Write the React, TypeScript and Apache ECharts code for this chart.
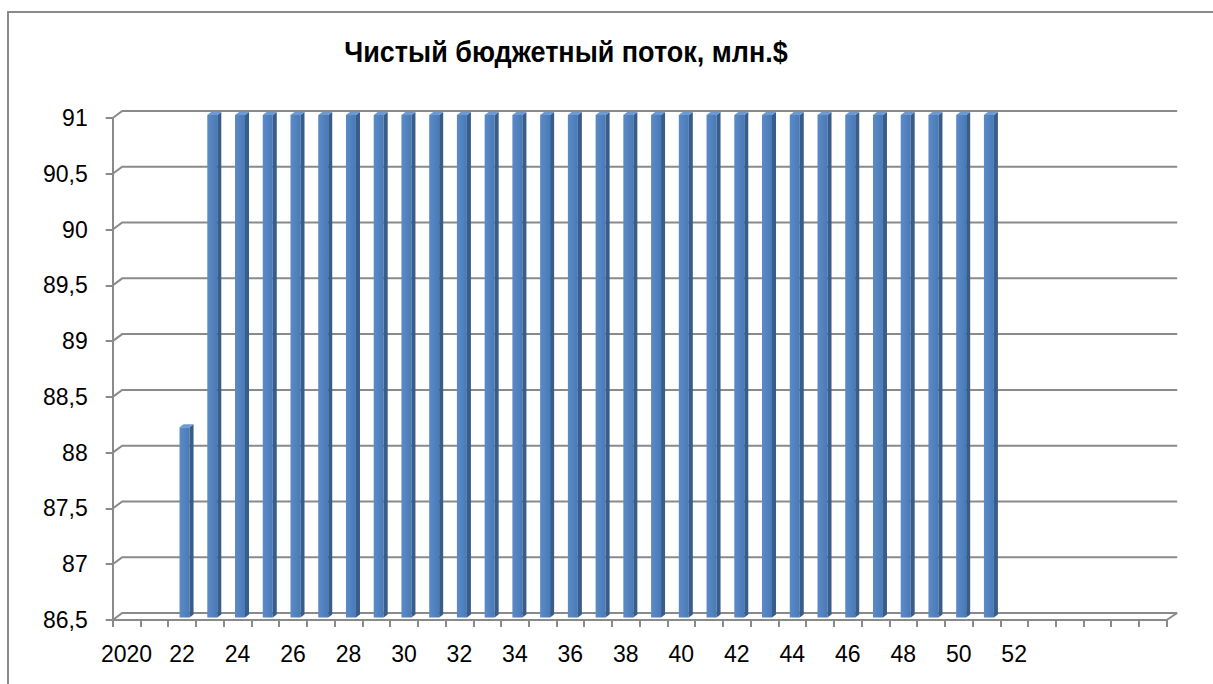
import React, { useEffect, useRef } from "react";
import * as echarts from "echarts";

const categories = [
  "2020", "2021", "2022", "2023", "2024", "2025", "2026", "2027", "2028", "2029",
  "2030", "2031", "2032", "2033", "2034", "2035", "2036", "2037", "2038", "2039",
  "2040", "2041", "2042", "2043", "2044", "2045", "2046", "2047", "2048", "2049",
  "2050", "2051", "2052", "2053", "2054", "2055", "2056", "2057",
];

const xTickLabels = [
  "2020", "", "22", "", "24", "", "26", "", "28", "",
  "30", "", "32", "", "34", "", "36", "", "38", "",
  "40", "", "42", "", "44", "", "46", "", "48", "",
  "50", "", "52", "", "", "", "", "",
];

const netFlow: (number | null)[] = [
  null, null, 88.2, 91, 91, 91, 91, 91, 91, 91,
  91, 91, 91, 91, 91, 91, 91, 91, 91, 91,
  91, 91, 91, 91, 91, 91, 91, 91, 91, 91,
  91, 91, null, null, null, null, null, null,
];

const yTicks = [86.5, 87, 87.5, 88, 88.5, 89, 89.5, 90, 90.5, 91];

const TITLE = "Чистый бюджетный поток, млн.$";
const Y_MIN = 86.5;
const Y_MAX = 91;
const Y_STEP = 0.5;

const AXIS = "#8a8a8a";
const DX = 9.5;
const DY = -7;
const FONT = "Liberation Sans, Arial, sans-serif";

export default function App() {
  const ref = useRef<HTMLDivElement>(null);

  useEffect(() => {
    const chart = echarts.init(ref.current!, null, { renderer: "svg" });
    const n = categories.length;

    const frameSeries = {
      type: "custom",
      silent: true,
      z: 1,
      encode: { x: 0, y: 1 },
      data: yTicks.map((v) => [0, v]),
      renderItem: (_params: any, api: any) => {
        const v = api.value(1);
        const band = api.size([1, 0])[0];
        const pl = api.coord([0, v]);
        const pr = api.coord([n - 1, v]);
        const xl = pl[0] - band / 2;
        const xr = pr[0] + band / 2;
        const y = pl[1];
        const children: any[] = [
          {
            type: "polyline",
            shape: { points: [[xl, y], [xl + DX, y + DY], [xr + DX + 1, y + DY]] },
            style: { stroke: AXIS, lineWidth: 2, fill: null },
          },
        ];
        if (v === Y_MIN) {
          children.push({
            type: "line",
            shape: { x1: xr, y1: y, x2: xr + DX + 1, y2: y + DY },
            style: { stroke: AXIS, lineWidth: 2 },
          });
        }
        return { type: "group", children };
      },
    };

    const barSeries = {
      type: "custom",
      name: "Чистый бюджетный поток",
      z: 2,
      encode: { x: 0, y: 1 },
      data: netFlow
        .map((v, i) => (v == null ? null : [i, v]))
        .filter((d) => d !== null),
      renderItem: (_params: any, api: any) => {
        const i = api.value(0);
        const v = api.value(1);
        const band = api.size([1, 0])[0];
        const t = api.coord([i, v]);
        const b = api.coord([i, Y_MIN]);
        const fw = band * 0.36;
        const d = band * 0.145;
        const dd = -3;
        const x0 = t[0] - band * 0.09;
        const yt = t[1] - 3;
        const yb = b[1] - 2.5;
        return {
          type: "group",
          children: [
            {
              type: "rect",
              shape: { x: x0, y: yt, width: fw, height: yb - yt },
              style: {
                fill: new echarts.graphic.LinearGradient(0, 0, 1, 0, [
                  { offset: 0, color: "#5A8BC8" },
                  { offset: 1, color: "#4A7AB6" },
                ]),
              },
            },
            {
              type: "polygon",
              shape: {
                points: [
                  [x0 + fw, yt],
                  [x0 + fw + d, yt + dd],
                  [x0 + fw + d, yb + dd],
                  [x0 + fw, yb],
                ],
              },
              style: { fill: "#385D8A" },
            },
            {
              type: "polygon",
              shape: {
                points: [
                  [x0, yt],
                  [x0 + d, yt + dd],
                  [x0 + fw + d, yt + dd],
                  [x0 + fw, yt],
                ],
              },
              style: { fill: "#6E9AD2" },
            },
          ],
        };
      },
    };

    chart.setOption({
      animation: false,
      backgroundColor: "#ffffff",
      graphic: [
        {
          type: "rect",
          silent: true,
          z: -10,
          shape: { x: 8, y: 12, width: 1400, height: 900 },
          style: { fill: "none", stroke: AXIS, lineWidth: 2 },
        },
        {
          type: "text",
          x: 566,
          y: 51,
          scaleY: 1.12,
          style: {
            text: TITLE,
            fontFamily: FONT,
            fontWeight: "bold",
            fontSize: 27,
            fill: "#000000",
            align: "center",
            verticalAlign: "middle",
          },
        },
      ],
      grid: { left: 112.7, top: 118, width: 1054, height: 502, containLabel: false },
      xAxis: {
        type: "category",
        data: categories,
        boundaryGap: true,
        axisLine: { show: true, lineStyle: { color: AXIS, width: 2 } },
        axisTick: { show: true, interval: 0, length: 7, lineStyle: { color: AXIS, width: 2 } },
        axisLabel: {
          interval: 0,
          margin: 22,
          color: "#000000",
          fontFamily: FONT,
          fontSize: 23,
          formatter: (_v: string, idx: number) => xTickLabels[idx],
        },
        splitLine: { show: false },
      },
      yAxis: {
        type: "value",
        min: Y_MIN,
        max: Y_MAX,
        interval: Y_STEP,
        axisLine: { show: true, lineStyle: { color: AXIS, width: 2 } },
        axisTick: { show: true, length: 7, lineStyle: { color: AXIS, width: 2 } },
        axisLabel: {
          margin: 25,
          color: "#000000",
          fontFamily: FONT,
          fontSize: 23,
          formatter: (v: number) => String(v).replace(".", ","),
        },
        splitLine: { show: false },
      },
      series: [frameSeries, barSeries],
    });

    return () => chart.dispose();
  }, []);

  return (
    <div
      ref={ref}
      style={{ position: "absolute", left: 0, top: 0, width: "1213px", height: "684px" }}
    />
  );
}
